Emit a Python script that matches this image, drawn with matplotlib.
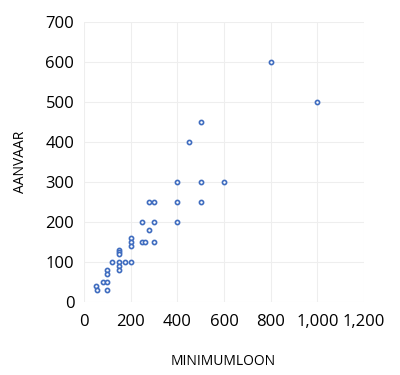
#!/usr/bin/env python3
import matplotlib
matplotlib.use("Agg")
import matplotlib.pyplot as plt
from matplotlib.ticker import FuncFormatter

# minimumloon vs aanvaar
minimumloon = [800, 1000, 500, 450, 400, 500, 600, 280, 300, 400, 500,
               250, 300, 400, 280, 250, 260, 300, 200, 200, 200,
               150, 150, 150, 150, 150, 150, 120, 175, 200,
               100, 100, 80, 100, 50, 55, 100]
aanvaar = [600, 500, 450, 400, 300, 300, 300, 250, 250, 250, 250,
           200, 200, 200, 180, 150, 150, 150, 160, 150, 140,
           130, 125, 120, 100, 90, 80, 100, 100, 100,
           80, 70, 50, 50, 40, 30, 30]

x_ticks = [0, 200, 400, 600, 800, 1000, 1200]
y_ticks = [0, 100, 200, 300, 400, 500, 600, 700]

plt.rcParams['font.family'] = ['Open Sans', 'DejaVu Sans']

fig = plt.figure(figsize=(4.0, 3.75), dpi=100)
ax = fig.add_axes([0.21, 0.1955, 0.70, 0.7465])

ax.scatter(minimumloon, aanvaar, s=9, facecolors='white',
           edgecolors='#3f6cbf', linewidths=1.2, zorder=3)

ax.set_xlim(0, 1200)
ax.set_ylim(0, 700)
ax.set_xticks(x_ticks)
ax.set_yticks(y_ticks)
ax.xaxis.set_major_formatter(FuncFormatter(lambda v, p: '{:,.0f}'.format(v)))
ax.grid(True, color='#eeeeee', linewidth=0.8)
ax.set_axisbelow(True)
for s in ax.spines.values():
    s.set_visible(False)
ax.tick_params(length=0, labelsize=12, colors='black')
ax.tick_params(axis='x', pad=9)
ax.tick_params(axis='y', pad=7)

ax.set_xlabel('MINIMUMLOON', fontsize=10)
ax.set_ylabel('AANVAAR', fontsize=10)
ax.xaxis.set_label_coords(0.496, -0.186)
ax.yaxis.set_label_coords(-0.20, 0.50)

fig.savefig('out.png', dpi=100)
